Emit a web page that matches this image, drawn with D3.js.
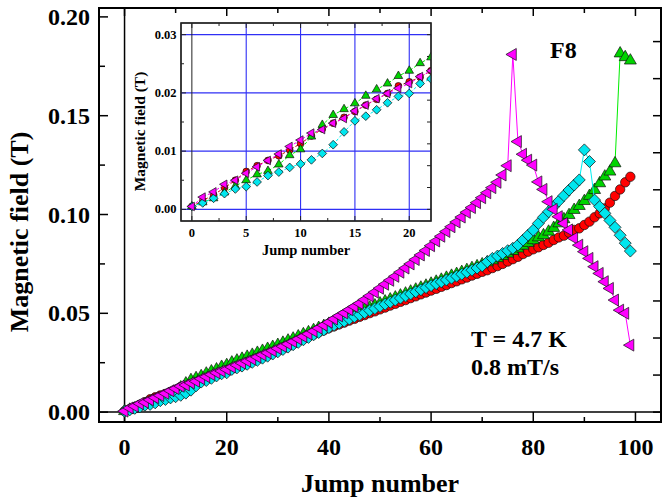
<html>
<head>
    <title>Magnetic field vs jump number</title>
    <meta charset="UTF-8" />
    <script src="https://d3js.org/d3.v7.min.js"></script>
    <style>
        body { margin: 0; background: white; }
        text { font-family: "Liberation Serif", "Times New Roman", serif; font-weight: bold; fill: black; }
        .frame { fill: none; stroke: black; stroke-width: 2px; }
        .insetframe { fill: white; stroke: #222; stroke-width: 1.3px; }
        .grid { stroke: #2f2ff5; stroke-width: 1.1px; }
        .tick { stroke: black; stroke-width: 1.5px; }
        .itick { stroke: #222; stroke-width: 1px; }
    </style>
</head>
<body>
<svg id="chart" width="662" height="501"></svg>
<script>
    // ---- data ----
    const jumps = d3.range(0, 100);

    const redField = [
        0.0005, 0.0015, 0.0025, 0.0037, 0.0050, 0.0065, 0.0075, 0.0084, 0.0092, 0.0102,
        0.0113, 0.0126, 0.0138, 0.0148, 0.0158, 0.0168, 0.0179, 0.0189, 0.0199, 0.0212,
        0.0219, 0.0227, 0.0238, 0.0248, 0.0259, 0.0269, 0.0280, 0.0290, 0.0300, 0.0310,
        0.0320, 0.0331, 0.0341, 0.0352, 0.0362, 0.0372, 0.0383, 0.0393, 0.0404, 0.0414,
        0.0425, 0.0434, 0.0444, 0.0453, 0.0463, 0.0472, 0.0482, 0.0491, 0.0501, 0.0510,
        0.0520, 0.0529, 0.0539, 0.0548, 0.0558, 0.0567, 0.0577, 0.0586, 0.0596, 0.0605,
        0.0615, 0.0624, 0.0634, 0.0643, 0.0653, 0.0662, 0.0672, 0.0681, 0.0691, 0.0700,
        0.0710, 0.0718, 0.0729, 0.0739, 0.0750, 0.0762, 0.0774, 0.0786, 0.0800, 0.0812,
        0.0824, 0.0834, 0.0846, 0.0857, 0.0871, 0.0884, 0.0893, 0.0908, 0.0922, 0.0930,
        0.0947, 0.0964, 0.0986, 0.1006, 0.1031, 0.1060, 0.1094, 0.1127, 0.1163, 0.1191
    ];

    const greenField = [
        0.0005, 0.0012, 0.0019, 0.0029, 0.0040, 0.0050, 0.0060, 0.0066, 0.0077, 0.0093,
        0.0103, 0.0125, 0.0145, 0.0162, 0.0172, 0.0182, 0.0195, 0.0206, 0.0216, 0.0229,
        0.0238, 0.0251, 0.0261, 0.0270, 0.0280, 0.0290, 0.0300, 0.0310, 0.0320, 0.0330,
        0.0340, 0.0351, 0.0362, 0.0372, 0.0383, 0.0394, 0.0404, 0.0415, 0.0426, 0.0436,
        0.0447, 0.0457, 0.0467, 0.0478, 0.0488, 0.0498, 0.0509, 0.0519, 0.0529, 0.0540,
        0.0550, 0.0560, 0.0570, 0.0580, 0.0590, 0.0600, 0.0610, 0.0620, 0.0630, 0.0640,
        0.0650, 0.0660, 0.0670, 0.0680, 0.0690, 0.0699, 0.0709, 0.0719, 0.0729, 0.0738,
        0.0748, 0.0758, 0.0768, 0.0779, 0.0790, 0.0802, 0.0815, 0.0828, 0.0842, 0.0856,
        0.0870, 0.0884, 0.0895, 0.0913, 0.0932, 0.0955, 0.0976, 0.0997, 0.1023, 0.1043,
        0.1068, 0.1094, 0.1124, 0.1158, 0.1192, 0.1217, 0.1259, 0.1815, 0.1796, 0.1779
    ];

    const cyanField = [
        0.0005, 0.0011, 0.0019, 0.0027, 0.0035, 0.0039, 0.0047, 0.0058, 0.0064, 0.0072,
        0.0078, 0.0085, 0.0096, 0.0111, 0.0133, 0.0152, 0.0160, 0.0171, 0.0183, 0.0194,
        0.0199, 0.0216, 0.0224, 0.0233, 0.0242, 0.0252, 0.0262, 0.0273, 0.0283, 0.0294,
        0.0305, 0.0317, 0.0329, 0.0341, 0.0353, 0.0366, 0.0378, 0.0391, 0.0403, 0.0416,
        0.0428, 0.0439, 0.0450, 0.0460, 0.0471, 0.0482, 0.0492, 0.0503, 0.0514, 0.0524,
        0.0535, 0.0546, 0.0556, 0.0567, 0.0577, 0.0588, 0.0598, 0.0609, 0.0619, 0.0630,
        0.0640, 0.0650, 0.0659, 0.0669, 0.0678, 0.0688, 0.0698, 0.0708, 0.0718, 0.0729,
        0.0740, 0.0761, 0.0778, 0.0790, 0.0803, 0.0817, 0.0829, 0.0846, 0.0871, 0.0896,
        0.0921, 0.0955, 0.0986, 0.1014, 0.1040, 0.1068, 0.1096, 0.1124, 0.1149, 0.1175,
        0.1327, 0.1268, 0.1073, 0.1040, 0.1006, 0.0970, 0.0935, 0.0895, 0.0855, 0.0815
    ];

    const magentaField = [
        0.0005, 0.0021, 0.0030, 0.0043, 0.0050, 0.0062, 0.0073, 0.0084, 0.0095, 0.0108,
        0.0119, 0.0131, 0.0137, 0.0148, 0.0156, 0.0169, 0.0179, 0.0190, 0.0199, 0.0208,
        0.0216, 0.0228, 0.0238, 0.0248, 0.0258, 0.0268, 0.0279, 0.0290, 0.0300, 0.0311,
        0.0322, 0.0333, 0.0345, 0.0357, 0.0370, 0.0383, 0.0396, 0.0410, 0.0425, 0.0440,
        0.0455, 0.0471, 0.0487, 0.0502, 0.0518, 0.0534, 0.0550, 0.0569, 0.0588, 0.0607,
        0.0627, 0.0647, 0.0667, 0.0687, 0.0708, 0.0729, 0.0750, 0.0772, 0.0795, 0.0818,
        0.0842, 0.0866, 0.0890, 0.0914, 0.0938, 0.0962, 0.0987, 0.1011, 0.1035, 0.1060,
        0.1085, 0.1110, 0.1136, 0.1163, 0.1200, 0.1247, 0.1810, 0.1369, 0.1305, 0.1275,
        0.1250, 0.1165, 0.1127, 0.1065, 0.1026, 0.0989, 0.0955, 0.0922, 0.0880, 0.0845,
        0.0812, 0.0778, 0.0736, 0.0702, 0.0660, 0.0626, 0.0567, 0.0516, 0.0500, 0.0339
    ];

    const xTicks = [0, 20, 40, 60, 80, 100];
    const yTicks = [0.00, 0.05, 0.10, 0.15, 0.20];
    const insetXTicks = [0, 5, 10, 15, 20];
    const insetYTicks = [0.00, 0.01, 0.02, 0.03];
    const insetLast = 22;   // inset shows jumps 0..22

    // series: draw order red, green, cyan, magenta
    const series = [
        { name: "red", values: redField, fill: "#ff0000", line: "#d00000", shape: "circle" },
        { name: "green", values: greenField, fill: "#00d400", line: "#00ee00", shape: "up" },
        { name: "cyan", values: cyanField, fill: "#00e6ee", line: "#00f0f0", shape: "diamond" },
        { name: "magenta", values: magentaField, fill: "#ff00ff", line: "#ff00ff", shape: "left" }
    ];

    // ---- setup ----
    const svg = d3.select("#chart");
    const x = d3.scaleLinear().domain([-5, 105]).range([99, 661]);
    const y = d3.scaleLinear().domain([-0.005, 0.2045]).range([422, 8]);
    const xi = d3.scaleLinear().domain([-1, 22]).range([181, 431]);
    const yi = d3.scaleLinear().domain([-0.002, 0.032]).range([221, 23]);

    const symbolFor = function (shape, big) {
        if (shape == "circle") return d3.symbol(d3.symbolCircle, big ? 70 : 36)();
        if (shape == "diamond") return d3.symbol(d3.symbolSquare, big ? 72 : 38)();
        return d3.symbol(d3.symbolTriangle, big ? 62 : 32)();
    };
    const rotFor = function (shape) {
        if (shape == "diamond") return 45;
        if (shape == "left") return -90;
        return 0;
    };

    // ---- main plot ----
    const main = svg.append("g");

    // zero lines
    main.append("line").attr("class", "tick")
        .attr("x1", x(0)).attr("x2", x(0)).attr("y1", y.range()[1]).attr("y2", y.range()[0]);
    main.append("line").attr("class", "tick")
        .attr("x1", x.range()[0]).attr("x2", x.range()[1]).attr("y1", y(0)).attr("y2", y(0));

    // ticks on all four sides (pointing inward)
    const xTickVals = d3.range(0, 101, 10);
    main.selectAll("line.bt").data(xTickVals).join("line").attr("class", "tick bt")
        .attr("x1", d => x(d)).attr("x2", d => x(d))
        .attr("y1", y.range()[0]).attr("y2", d => y.range()[0] - (d % 20 == 0 ? 10 : 5));
    main.selectAll("line.tt").data(xTickVals).join("line").attr("class", "tick tt")
        .attr("x1", d => x(d)).attr("x2", d => x(d))
        .attr("y1", y.range()[1]).attr("y2", d => y.range()[1] + (d % 20 == 0 ? 8 : 5));
    const yTickVals = d3.range(0, 9).map(i => i * 0.025);
    main.selectAll("line.lt").data(yTickVals).join("line").attr("class", "tick lt")
        .attr("x1", x.range()[0]).attr("x2", (d, i) => x.range()[0] + (i % 2 == 0 ? 9 : 6))
        .attr("y1", d => y(d)).attr("y2", d => y(d));
    // right side ticks belong to a second scale (3/8 of the left major step)
    const rightTickVals = d3.range(0, 11).map(i => i * 0.01875);
    main.selectAll("line.rt").data(rightTickVals).join("line").attr("class", "tick rt")
        .attr("x1", x.range()[1]).attr("x2", x.range()[1] - 8)
        .attr("y1", d => y(d)).attr("y2", d => y(d));

    main.append("rect").attr("class", "frame")
        .attr("x", x.range()[0]).attr("y", y.range()[1])
        .attr("width", x.range()[1] - x.range()[0]).attr("height", y.range()[0] - y.range()[1]);

    main.selectAll("text.xl").data(xTicks).join("text").attr("class", "xl")
        .attr("x", d => x(d)).attr("y", 455).attr("text-anchor", "middle")
        .style("font-size", "24px").text(d => d);
    main.selectAll("text.yl").data(yTicks).join("text").attr("class", "yl")
        .attr("x", 90).attr("y", d => y(d) + 8).attr("text-anchor", "end")
        .style("font-size", "24px").text(d => d.toFixed(2));

    main.append("text").attr("x", 380).attr("y", 492).attr("text-anchor", "middle")
        .style("font-size", "26px").text("Jump number");
    main.append("text").attr("transform", "translate(28,232) rotate(-90)")
        .attr("text-anchor", "middle").style("font-size", "26px").text("Magnetic field (T)");

    // series lines and markers
    series.forEach(s => {
        const pts = jumps.map((j, i) => [j, s.values[i]]);
        main.append("path").datum(pts)
            .attr("d", d3.line().x(d => x(d[0])).y(d => y(d[1])))
            .style("fill", "none").style("stroke", s.line).style("stroke-width", 1);
        main.selectAll("path.m-" + s.name).data(pts).join("path")
            .attr("class", "m-" + s.name)
            .attr("d", symbolFor(s.shape, true))
            .attr("transform", d => "translate(" + x(d[0]) + "," + y(d[1]) + ") rotate(" + rotFor(s.shape) + ")")
            .style("fill", s.fill).style("stroke", "#111").style("stroke-width", 0.7);
    });

    main.append("text").attr("x", 550).attr("y", 58).style("font-size", "24px").text("F8");
    main.append("text").attr("x", 471).attr("y", 347).style("font-size", "24px").text("T = 4.7 K");
    main.append("text").attr("x", 471).attr("y", 375).style("font-size", "24px").text("0.8 mT/s");

    // ---- inset ----
    const inset = svg.append("g");
    inset.append("rect").attr("class", "insetframe")
        .attr("x", xi.range()[0]).attr("y", yi.range()[1])
        .attr("width", xi.range()[1] - xi.range()[0]).attr("height", yi.range()[0] - yi.range()[1]);

    svg.append("clipPath").attr("id", "insetclip").append("rect")
        .attr("x", xi.range()[0]).attr("y", yi.range()[1])
        .attr("width", xi.range()[1] - xi.range()[0]).attr("height", yi.range()[0] - yi.range()[1]);

    inset.selectAll("line.gx").data([5, 10, 15, 20]).join("line").attr("class", "grid gx")
        .attr("x1", d => xi(d)).attr("x2", d => xi(d)).attr("y1", yi.range()[1]).attr("y2", yi.range()[0]);
    inset.selectAll("line.gy").data(insetYTicks).join("line").attr("class", "grid gy")
        .attr("x1", xi.range()[0]).attr("x2", xi.range()[1]).attr("y1", d => yi(d)).attr("y2", d => yi(d));
    inset.append("line").attr("class", "itick")
        .attr("x1", xi(0)).attr("x2", xi(0)).attr("y1", yi.range()[1]).attr("y2", yi.range()[0]);

    const ixTickVals = d3.range(0, 9).map(i => i * 2.5);
    inset.selectAll("line.ibt").data(ixTickVals).join("line").attr("class", "itick ibt")
        .attr("x1", d => xi(d)).attr("x2", d => xi(d))
        .attr("y1", yi.range()[0]).attr("y2", (d, i) => yi.range()[0] - (i % 2 == 0 ? 5 : 3));
    inset.selectAll("line.itt").data(ixTickVals).join("line").attr("class", "itick itt")
        .attr("x1", d => xi(d)).attr("x2", d => xi(d))
        .attr("y1", yi.range()[1]).attr("y2", (d, i) => yi.range()[1] + (i % 2 == 0 ? 5 : 3));
    const iyTickVals = d3.range(0, 7).map(i => i * 0.005);
    inset.selectAll("line.ilt").data(iyTickVals).join("line").attr("class", "itick ilt")
        .attr("x1", xi.range()[0]).attr("x2", (d, i) => xi.range()[0] + (i % 2 == 0 ? 5 : 3))
        .attr("y1", d => yi(d)).attr("y2", d => yi(d));
    const irTickVals = d3.range(0, 9).map(i => i * 0.00375);
    inset.selectAll("line.irt").data(irTickVals).join("line").attr("class", "itick irt")
        .attr("x1", xi.range()[1]).attr("x2", xi.range()[1] - 4)
        .attr("y1", d => yi(d)).attr("y2", d => yi(d));

    const insetPlot = inset.append("g").attr("clip-path", "url(#insetclip)");
    series.forEach(s => {
        const pts = jumps.slice(0, insetLast + 1).map((j, i) => [j, s.values[i]]);
        insetPlot.append("path").datum(pts)
            .attr("d", d3.line().x(d => xi(d[0])).y(d => yi(d[1])))
            .style("fill", "none").style("stroke", s.line).style("stroke-width", 1)
            .style("stroke-dasharray", "3,2");
        insetPlot.selectAll("path.im-" + s.name).data(pts).join("path")
            .attr("class", "im-" + s.name)
            .attr("d", symbolFor(s.shape, false))
            .attr("transform", d => "translate(" + xi(d[0]) + "," + yi(d[1]) + ") rotate(" + rotFor(s.shape) + ")")
            .style("fill", s.fill).style("stroke", "#111").style("stroke-width", 0.7);
    });

    inset.append("rect").attr("x", xi.range()[0]).attr("y", yi.range()[1])
        .attr("width", xi.range()[1] - xi.range()[0]).attr("height", yi.range()[0] - yi.range()[1])
        .style("fill", "none").style("stroke", "#222").style("stroke-width", 1.3);

    inset.selectAll("text.ixl").data(insetXTicks).join("text").attr("class", "ixl")
        .attr("x", d => xi(d)).attr("y", 237).attr("text-anchor", "middle")
        .style("font-size", "12.5px").text(d => d);
    inset.selectAll("text.iyl").data(insetYTicks).join("text").attr("class", "iyl")
        .attr("x", 176.5).attr("y", d => yi(d) + 4).attr("text-anchor", "end")
        .style("font-size", "12.5px").text(d => d.toFixed(2));
    inset.append("text").attr("x", 306).attr("y", 255).attr("text-anchor", "middle")
        .style("font-size", "14.5px").text("Jump number");
    inset.append("text").attr("transform", "translate(145,131.5) rotate(-90)")
        .attr("text-anchor", "middle").style("font-size", "15.5px").text("Magnetic field (T)");
</script>
</body>
</html>
